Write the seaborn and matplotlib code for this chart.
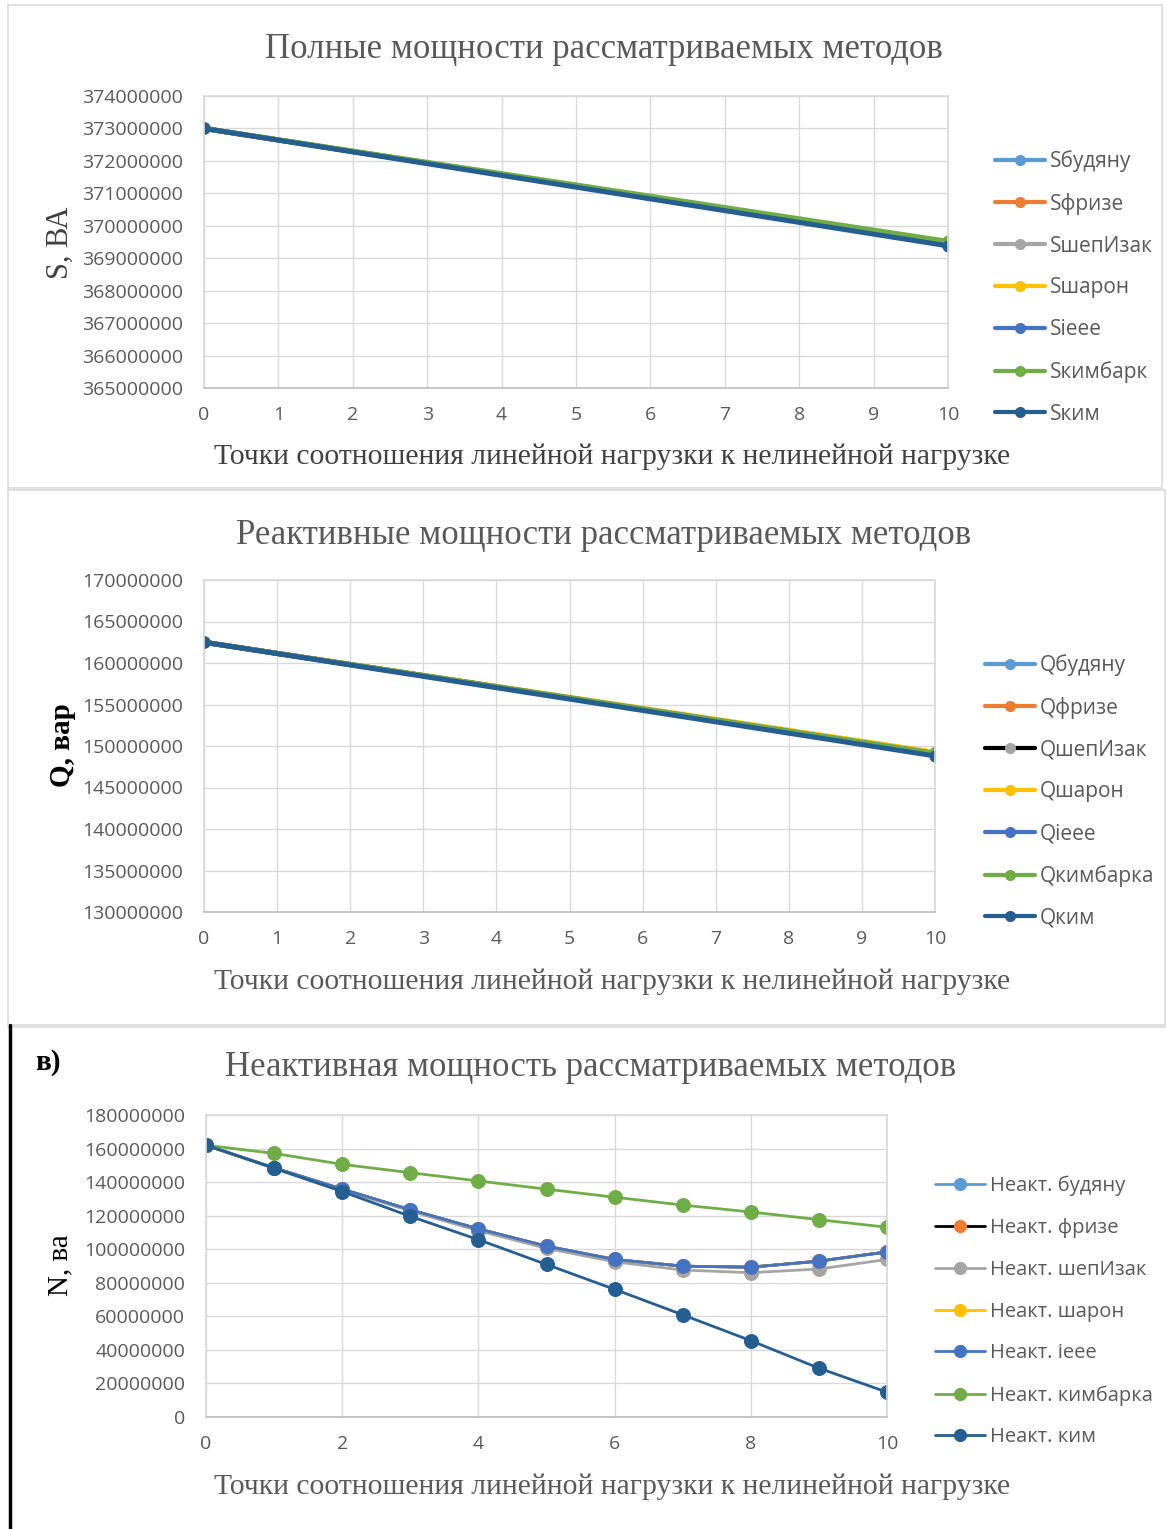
import numpy as np
import pandas as pd
import matplotlib
matplotlib.use("Agg")
import matplotlib.pyplot as plt
from matplotlib.patches import Rectangle
from matplotlib.lines import Line2D
import seaborn as sns

# Данные
x_sq = [0, 10]
s_budyanu = [373000000, 369450000]
s_frize = [373000000, 369450000]
s_shep = [373000000, 369450000]
s_sharon = [373000000, 369480000]
s_ieee = [373000000, 369450000]
s_kimbark = [373000000, 369520000]
s_kim = [373000000, 369380000]

q_budyanu = [162500000, 149100000]
q_frize = [162500000, 149100000]
q_shep = [162500000, 149100000]
q_sharon = [162500000, 149250000]
q_ieee = [162500000, 149100000]
q_kimbark = [162500000, 149100000]
q_kim = [162500000, 148800000]

x_n = [0, 1, 2, 3, 4, 5, 6, 7, 8, 9, 10]
n_budyanu = [162.0, 148.5, 135.8, 123.5, 112.1, 101.8, 93.9, 89.9, 89.3, 92.9, 98.4]
n_frize = [162.0, 148.5, 135.8, 123.5, 112.1, 101.8, 93.9, 89.9, 89.3, 92.9, 98.4]
n_shep = [162.0, 148.4, 135.4, 122.8, 111.0, 100.5, 92.5, 87.6, 86.0, 88.2, 93.9]
n_sharon = [162.0, 148.5, 135.8, 123.5, 112.1, 101.8, 93.9, 89.9, 89.3, 92.9, 98.4]
n_ieee = [162.0, 148.5, 135.8, 123.5, 112.1, 101.8, 93.9, 89.9, 89.3, 92.9, 98.4]
n_kimbark = [162.0, 157.1, 150.6, 145.6, 140.7, 135.8, 131.0, 126.3, 122.2, 117.6, 113.1]
n_kim = [162.0, 148.2, 134.4, 119.6, 105.7, 90.9, 76.1, 60.9, 45.5, 29.1, 14.8]

# цвета Excel
c_lblue = "#5B9BD5"
c_orange = "#ED7D31"
c_grey = "#A5A5A5"
c_yellow = "#FFC000"
c_blue = "#4472C4"
c_green = "#70AD47"
c_dark = "#255E91"

sns.set_theme(style="white")
plt.rcParams['font.family'] = ['Open Sans', 'DejaVu Sans']

W, H = 1167, 1529
fig = plt.figure(figsize=(W / 100, H / 100), dpi=100)
fig.patch.set_facecolor("white")

txt_grey = "#595959"
serif = ['Liberation Serif', 'DejaVu Serif']


def fx(px):
    return px / W


def fy(py):
    return 1 - py / H


def box(x0, y0, x1, y1):
    fig.patches.append(Rectangle((fx(x0), fy(y1)), fx(x1 - x0), (y1 - y0) / H,
                                 transform=fig.transFigure, fill=False,
                                 edgecolor="#D9D9D9", lw=1.2))


def style_ax(ax, ylim, ystep, xstep):
    ax.set_xlim(0, 10)
    ax.set_ylim(*ylim)
    ax.set_xticks(np.arange(0, 10.01, xstep))
    ax.set_yticks(np.arange(ylim[0], ylim[1] + 1, ystep))
    ax.set_yticklabels([str(int(v)) for v in np.arange(ylim[0], ylim[1] + 1, ystep)])
    ax.grid(True, color="#D9D9D9", lw=1)
    ax.set_axisbelow(True)
    for s in ax.spines.values():
        s.set_color("#D9D9D9")
    ax.spines['bottom'].set_color("#BFBFBF")
    ax.tick_params(axis='both', length=0, labelsize=14, labelcolor=txt_grey)
    ax.tick_params(axis='x', pad=13)
    ax.tick_params(axis='y', pad=15)
    ax.set_xlabel("")
    ax.set_ylabel("")


def draw(ax, x, series, lw, ms, scale=1.0):
    for name, vals, lc, mc in series:
        sns.lineplot(x=x, y=np.array(vals) * scale, ax=ax, color=lc, lw=lw,
                     marker='o', markersize=ms, markerfacecolor=mc,
                     markeredgecolor=mc, label=name, legend=False)


def legend(ax, series, x0, y0, lw, ms, fs, ls):
    handles = [Line2D([0], [0], color=lc, lw=lw, marker='o', markersize=ms,
                      markerfacecolor=mc, markeredgecolor=mc)
               for _, _, lc, mc in series]
    labels = [s[0] for s in series]
    fpx = fs * 100 / 72
    fig.legend(handles, labels, loc='upper left', bbox_to_anchor=(fx(x0), fy(y0)),
               frameon=False, fontsize=fs, labelcolor=txt_grey,
               handlelength=50 / fpx, handletextpad=5 / fpx,
               labelspacing=ls, borderpad=0, borderaxespad=0, numpoints=1)


# панели
box(8, 5, 1162, 488)
box(8, 490, 1165, 1025)
fig.add_artist(Line2D([fx(8), fx(1165)], [fy(1027), fy(1027)], color="#D9D9D9", lw=1.2,
                      transform=fig.transFigure))
fig.add_artist(Line2D([fx(10), fx(10)], [fy(1025), 0], color="black", lw=2.5,
                      transform=fig.transFigure))

# ---- Полные мощности
ax1 = fig.add_axes([fx(204), fy(388), fx(948 - 204), (388 - 96) / H])
ser1 = [("Sбудяну", s_budyanu, c_lblue, c_lblue),
        ("Sфризе", s_frize, c_orange, c_orange),
        ("SшепИзак", s_shep, c_grey, c_grey),
        ("Sшарон", s_sharon, c_yellow, c_yellow),
        ("Sieee", s_ieee, c_blue, c_blue),
        ("Sкимбарк", s_kimbark, c_green, c_green),
        ("Sким", s_kim, c_dark, c_dark)]
draw(ax1, x_sq, ser1, 3.6, 8)
style_ax(ax1, (365000000, 374000000), 1000000, 1)
legend(ax1, ser1, 995, 150, 3.0, 7, 15, 1.0)
fig.text(fx(604), fy(50), "Полные мощности рассматриваемых методов", ha='center',
         va='center', fontsize=25, color=txt_grey, family=serif)
fig.text(fx(612), fy(457), "Точки соотношения линейной нагрузки к нелинейной нагрузке",
         ha='center', va='center', fontsize=21.3, color="#404040", family=serif)
fig.text(fx(60), fy(243), "S, ВА", ha='center', va='center', rotation=90,
         fontsize=22, color="#404040", family=serif)

# ---- Реактивные мощности
ax2 = fig.add_axes([fx(204), fy(912), fx(935 - 204), (912 - 580) / H])
ser2 = [("Qбудяну", q_budyanu, c_lblue, c_lblue),
        ("Qфризе", q_frize, c_orange, c_orange),
        ("QшепИзак", q_shep, "black", c_grey),
        ("Qшарон", q_sharon, c_yellow, c_yellow),
        ("Qieee", q_ieee, c_blue, c_blue),
        ("Qкимбарка", q_kimbark, c_green, c_green),
        ("Qким", q_kim, c_dark, c_dark)]
draw(ax2, x_sq, ser2, 3.6, 8)
style_ax(ax2, (130000000, 170000000), 5000000, 1)
legend(ax2, ser2, 985, 654, 3.0, 7, 15, 1.0)
fig.text(fx(604), fy(535), "Реактивные мощности рассматриваемых методов", ha='center',
         va='center', fontsize=25, color=txt_grey, family=serif)
fig.text(fx(612), fy(982), "Точки соотношения линейной нагрузки к нелинейной нагрузке",
         ha='center', va='center', fontsize=21.3, color=txt_grey, family=serif)
fig.text(fx(62), fy(745), "Q, вар", ha='center', va='center', rotation=90,
         fontsize=21, color="black", family=serif, fontweight='bold')

# ---- Неактивная мощность
ax3 = fig.add_axes([fx(206), fy(1417), fx(887 - 206), (1417 - 1115) / H])
ser3 = [("Неакт. будяну", n_budyanu, c_lblue, c_lblue),
        ("Неакт. фризе", n_frize, "black", c_orange),
        ("Неакт. шепИзак", n_shep, c_grey, c_grey),
        ("Неакт. шарон", n_sharon, c_yellow, c_yellow),
        ("Неакт. ieee", n_ieee, c_blue, c_blue),
        ("Неакт. кимбарка", n_kimbark, c_green, c_green),
        ("Неакт. ким", n_kim, c_dark, c_dark)]
draw(ax3, x_n, ser3, 2.0, 10, scale=1e6)
style_ax(ax3, (0, 180000000), 20000000, 2)
legend(ax3, ser3, 935, 1176, 2.0, 8.5, 14.5, 1.08)
fig.text(fx(591), fy(1067), "Неактивная мощность рассматриваемых методов", ha='center',
         va='center', fontsize=25, color=txt_grey, family=serif)
fig.text(fx(612), fy(1487), "Точки соотношения линейной нагрузки к нелинейной нагрузке",
         ha='center', va='center', fontsize=21.3, color=txt_grey, family=serif)
fig.text(fx(60), fy(1265), "N, ва", ha='center', va='center', rotation=90,
         fontsize=21, color="black", family=serif)
fig.text(fx(48), fy(1062), "в)", ha='center', va='center', fontsize=21,
         color="black", family=serif, fontweight='bold')

fig.savefig("out.png", dpi=100, facecolor="white")
